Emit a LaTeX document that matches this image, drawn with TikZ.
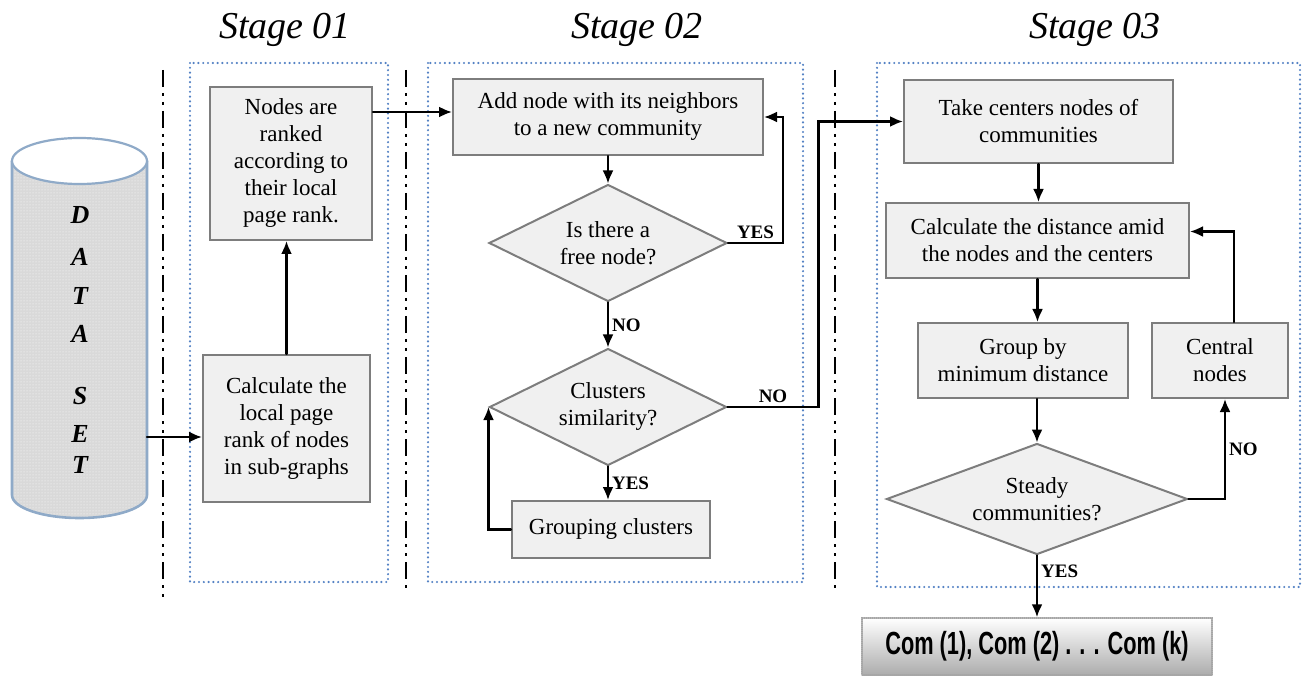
\documentclass[tikz,border=0pt]{standalone}
\usepackage{fontspec}
\setmainfont{Liberation Serif}
\newfontfamily\comfont[FakeStretch=0.68]{Liberation Sans}
\usetikzlibrary{shapes.geometric,arrows.meta,patterns}
\definecolor{boxgray}{RGB}{240,240,240}
\definecolor{edgegray}{RGB}{125,125,125}
\definecolor{frameblue}{RGB}{84,130,196}
\definecolor{cylblue}{RGB}{143,170,200}

\begin{document}
\begin{tikzpicture}[x=1pt,y=-1pt,line cap=round,
  box/.style={draw=edgegray,line width=2pt,fill=boxgray,align=center,inner sep=2pt,
    font=\rmfamily\fontsize{23}{27}\selectfont},
  dec/.style={box,diamond,aspect=2,inner sep=0pt},
  arr/.style={-{Latex[length=13pt,width=11pt]},line width=2.2pt},
  lab/.style={font=\rmfamily\fontsize{19}{22}\selectfont\bfseries,inner sep=3pt},
  stagebox/.style={draw=frameblue,line width=2.4pt,dash pattern=on 0pt off 4.8pt},
  divider/.style={line width=2.6pt,line cap=butt,dash pattern=on 17pt off 6pt on 3pt off 6pt on 3pt off 6pt},
  stagetitle/.style={font=\rmfamily\fontsize{38}{42}\selectfont\itshape}]
  \useasboundingbox (0,0) rectangle (1304,676);

  % data set cylinder
  \path[fill=gray!30,postaction={pattern=dots,pattern color=white}]
    (12,161) -- (12,495) arc[start angle=180,end angle=0,x radius=67.5,y radius=23] -- (147,161) -- cycle;
  \draw[cylblue,line width=2.6pt] (12,161) -- (12,495) arc[start angle=180,end angle=0,x radius=67.5,y radius=23] -- (147,161);
  \draw[cylblue,line width=2.2pt,fill=white] (79.5,161) ellipse [x radius=67.5,y radius=23];
  \foreach \c/\y in {D/215,A/257,T/296,A/334,S/396,E/434,T/465}
    \node[font=\rmfamily\fontsize{26}{28}\selectfont\bfseries\itshape] (l\y) at (80,\y) {\c};
  \coordinate (dsout) at (147,437);

  % separators and stage frames
  \foreach \x/\b in {163/600,406/590,835/590}
    \draw[divider] (\x,70) -- (\x,\b);
  \draw[stagebox] (190,63) rectangle (388,582);
  \draw[stagebox] (428,63) rectangle (803,582);
  \draw[stagebox] (877,63) rectangle (1300,587);
  \node[stagetitle] (t1) at (285,30) {Stage 01};
  \node[stagetitle] (t2) at (637,30) {Stage 02};
  \node[stagetitle] (t3) at (1095,30) {Stage 03};

  % stage 01
  \node[box,minimum width=162pt,minimum height=153pt] (rank) at (291,163.5)
    {Nodes are\\ranked\\according to\\their local\\page rank.};
  \node[box,minimum width=167pt,minimum height=147pt] (calc) at (286.5,428.5)
    {Calculate the\\local page\\rank of nodes\\in sub-graphs};

  % stage 02
  \node[box,minimum width=310pt,minimum height=76pt] (add) at (608,117)
    {Add node with its neighbors\\to a new community};
  \node[dec,minimum width=238pt,minimum height=117pt] (free) at (608,243) {Is there a\\free node?};
  \node[dec,minimum width=237pt,minimum height=117pt] (sim) at (608,407) {Clusters\\similarity?};
  \node[box,minimum width=198pt,minimum height=57pt] (grp) at (611,529.5) {Grouping clusters};

  % stage 03
  \node[box,minimum width=269pt,minimum height=83pt] (take) at (1038.5,121.5)
    {Take centers nodes of\\communities};
  \node[box,minimum width=303pt,minimum height=75pt] (dist) at (1037.5,240.5)
    {Calculate the distance amid\\the nodes and the centers};
  \node[box,minimum width=210pt,minimum height=75pt] (grpmin) at (1023,360.5)
    {Group by\\minimum distance};
  \node[box,minimum width=136pt,minimum height=75pt] (cen) at (1220,360.5) {Central\\nodes};
  \node[dec,minimum width=301pt,minimum height=111pt] (steady) at (1037,499) {Steady\\communities?};
  \node[draw=gray!70,line width=1.5pt,dash pattern=on 1pt off 1pt,top color=white,bottom color=gray!65,
    minimum width=350pt,minimum height=57pt,font=\comfont\fontsize{32}{36}\selectfont\bfseries] (res)
    at (1037,646.5) {Com (1), Com (2) . . . Com (k)};

  % connectors
  \draw[arr] (dsout) -- (dsout -| calc.west);
  \draw[arr] (calc.north) -- (calc.north |- rank.south);
  \draw[arr] ([yshift=-26pt]rank.north east) coordinate (r1) -- (r1 -| add.west);
  \draw[arr] (add.south) -- (free.north);
  \draw[arr] (free.east) -- node[lab,above] {YES} ++(55,0) |- (add.east);
  \draw[arr] (free.south) -- node[lab,right] {NO} (sim.north);
  \draw[arr] (sim.east) -- node[lab,above] {NO} ++(91,0) |- (take.west);
  \draw[arr] (sim.south) -- node[lab,right] {YES} (sim.south |- grp.north);
  \draw[arr] (grp.west) -| (sim.west);
  \draw[arr] (take.south) -- (take.south |- dist.north);
  \draw[arr] (dist.south) -- (dist.south |- grpmin.north);
  \draw[arr] (steady.north |- grpmin.south) -- (steady.north);
  \draw[arr] (steady.east) -| node[lab,right,pos=0.75] {NO} ([xshift=5pt]cen.south);
  \draw[arr] ([xshift=14pt]cen.north) |- ([yshift=9pt]dist.east);
  \draw[arr] (steady.south) -- node[lab,right,pos=0.25] {YES} (res.north);
\end{tikzpicture}
\end{document}
